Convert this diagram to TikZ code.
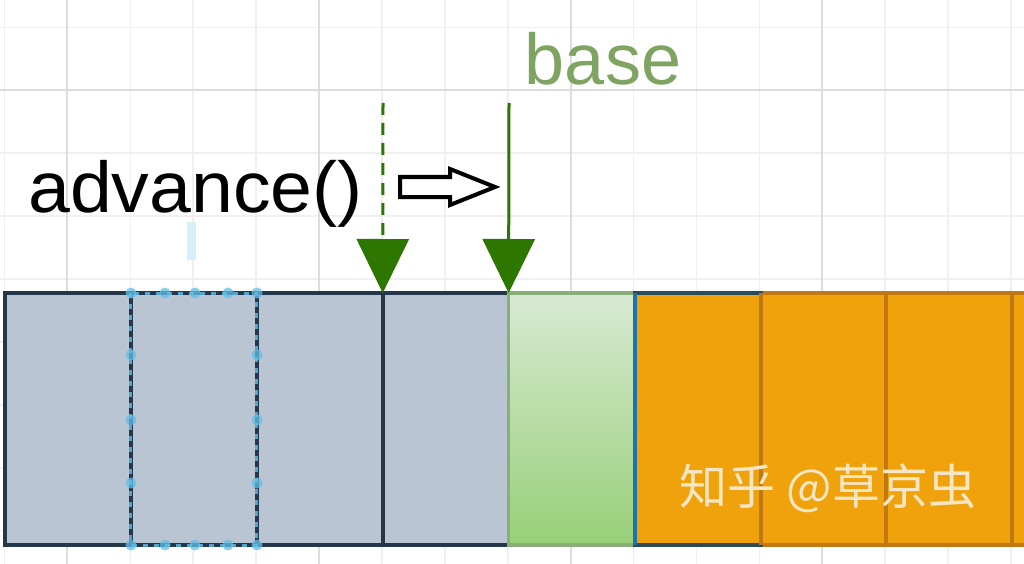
\documentclass[tikz,border=0pt]{standalone}
\usepackage{fontspec}
\setmainfont{Liberation Sans}
\newfontfamily\cjk{Noto Sans CJK SC}
\usetikzlibrary{arrows.meta}
\definecolor{gridminor}{HTML}{F0F0F0}
\definecolor{gridmajor}{HTML}{DCDCDC}
\definecolor{cellfill}{HTML}{B9C5D2}
\definecolor{cellborder}{HTML}{25374A}
\definecolor{greentop}{HTML}{D7EAD3}
\definecolor{greenbot}{HTML}{98CF78}
\definecolor{greenborder}{HTML}{8AAE78}
\definecolor{orangefill}{HTML}{F0A20C}
\definecolor{orangeborder}{HTML}{C27812}
\definecolor{arrowgreen}{HTML}{2D7600}
\definecolor{basegreen}{HTML}{7FA462}
\definecolor{selblue}{HTML}{62BFE8}
\definecolor{firstorange}{HTML}{2A4A5E}
\definecolor{leftblue}{HTML}{1B74AC}
\definecolor{wmtext}{HTML}{F6E6C4}
\begin{document}
\begin{tikzpicture}[x=1pt,y=-1pt,
  gline/.style={gridminor,line width=1.6pt},
  gmajor/.style={gridmajor,line width=2pt},
  cellbox/.style={minimum width=125.9pt,minimum height=252pt,inner sep=0pt,outer sep=0pt},
  graycell/.style={cellbox,draw=cellborder,line width=4pt,fill=cellfill},
  greencell/.style={cellbox,draw=greenborder,line width=3.5pt,top color=greentop,bottom color=greenbot},
  orangecell/.style={cellbox,draw=orangeborder,line width=4pt,fill=orangefill},
  ptr/.style={arrowgreen,line width=3pt,-{Triangle[width=52pt,length=54pt]}},
  handle/.style={fill=selblue,opacity=0.75,inner sep=0pt,minimum size=11pt,shape=circle}
]
\clip (0,0) rectangle (1024,564);
\fill[white] (0,0) rectangle (1024,564);
% grid
\foreach \k in {0,...,16} {
  \pgfmathsetmacro{\gx}{4.5+62.9*\k}
  \draw[gline] (\gx,0) -- (\gx,564);
}
\foreach \k in {0,...,8} {
  \pgfmathsetmacro{\gy}{27.4+62.9*\k}
  \draw[gline] (0,\gy) -- (1024,\gy);
}
\foreach \k in {1,5,9,13} {
  \pgfmathsetmacro{\gx}{4.5+62.9*\k}
  \draw[gmajor] (\gx,0) -- (\gx,564);
}
\draw[gmajor] (0,90.3) -- (1024,90.3);
% faint selection trace
\fill[selblue!25] (187,222) rectangle (196,260);
% gray cells
\node[graycell] (c0) at (67.95,419) {};
\node[graycell] (c1) at (193.85,419) {};
\node[graycell] (c2) at (319.75,419) {};
\node[graycell] (c3) at (445.65,419) {};
% selection handles on c1
\draw[selblue,line width=3pt,dash pattern=on 5pt off 6pt,opacity=0.8] (c1.north west) rectangle (c1.south east);
\foreach \hx in {131,165,195,228,257} {
  \node[handle] at (\hx,293) {};
  \node[handle] at (\hx,545) {};
}
\foreach \hy in {355,420,483} {
  \node[handle] at (131,\hy) {};
  \node[handle] at (257,\hy) {};
}
% green cell
\node[greencell] (g) at (571.55,419) {};
% orange cells
\node[orangecell] (o4) at (1075.25,419) {};
\node[orangecell] (o3) at (949.35,419) {};
\node[orangecell] (o2) at (823.45,419) {};
\node[orangecell,draw=firstorange] (o1) at (697.55,419) {};
\draw[orangeborder,line width=4pt] (o1.north east) -- (o1.south east);
\draw[leftblue,line width=4pt] (o1.north west) -- (o1.south west);
% pointers
\coordinate (dtop) at (383,103);
\coordinate (btop) at (509,103);
\draw[ptr,dash pattern=on 12pt off 8pt] (dtop) -- (c2.north east);
\draw[ptr] (btop) -- (c3.north east);
% labels
\node[anchor=base,text=basegreen,font=\fontsize{72}{80}\selectfont,inner sep=0pt] (base) at (603,85) {base};
\node[anchor=base west,text=black,font=\fontsize{72}{80}\selectfont,inner sep=0pt,xscale=1.045] (adv) at (28,212) {advance()};
% hollow block arrow
\draw[black,line width=4pt,fill=white,line join=miter]
  (400,177) -- (450,177) -- (450,169) -- (495,187) -- (450,205) -- (450,197) -- (400,197) -- cycle;
% watermark
\node[text=wmtext,font=\cjk\fontsize{48}{52}\selectfont,inner sep=0pt] (wm) at (828,488) {知乎 @草京虫};
\end{tikzpicture}
\end{document}
